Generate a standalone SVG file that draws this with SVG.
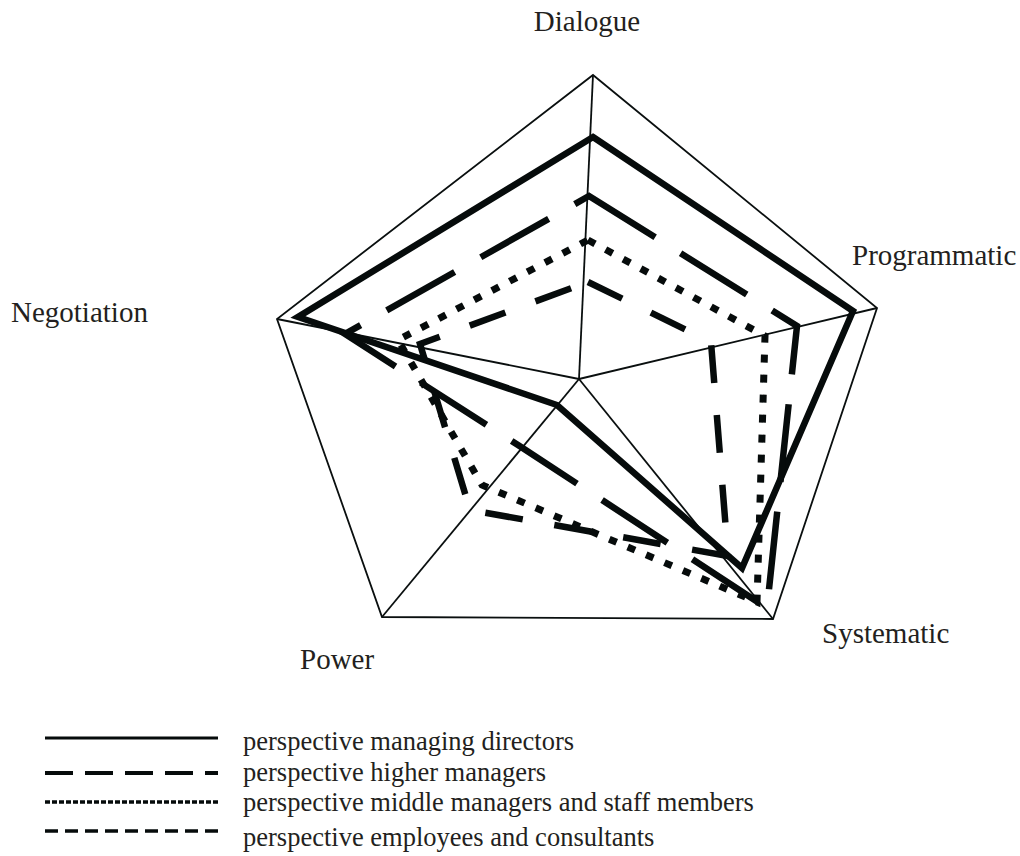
<svg xmlns="http://www.w3.org/2000/svg" width="1020" height="856" viewBox="0 0 1020 856">
<style>
.lbl{font-family:"Liberation Serif","Times New Roman",serif;font-size:29px;fill:#231f20}
.leg{font-family:"Liberation Serif","Times New Roman",serif;font-size:26.5px;fill:#231f20}
.frame{fill:none;stroke:#0a0f0f;stroke-width:1.8;stroke-linejoin:miter}
.spoke{stroke:#0a0f0f;stroke-width:1.8}
.s{fill:none;stroke:#060b0b;stroke-linejoin:miter;stroke-linecap:butt}
.md{stroke-width:6.5}
.hm{stroke-width:6.5;stroke-dasharray:78 30}
.mm{stroke-width:7;stroke-dasharray:8 12}
.ec{stroke-width:6.5;stroke-dasharray:38 32}
</style>
<rect width="1020" height="856" fill="#fff"/>
<g id="axes">
<polygon class="frame" points="593,75 877,308 773,619 382,617 277,319"/>
<line class="spoke" x1="579" y1="379" x2="593" y2="75"/>
<line class="spoke" x1="579" y1="379" x2="877" y2="308"/>
<line class="spoke" x1="579" y1="379" x2="773" y2="619"/>
<line class="spoke" x1="579" y1="379" x2="382" y2="617"/>
<line class="spoke" x1="579" y1="379" x2="277" y2="319"/>
</g>
<g id="labels">
<text class="lbl" x="587" y="31" text-anchor="middle">Dialogue</text>
<text class="lbl" x="852" y="265">Programmatic</text>
<text class="lbl" x="11" y="322">Negotiation</text>
<text class="lbl" x="822" y="643">Systematic</text>
<text class="lbl" x="300" y="669">Power</text>
</g>
<g id="connectors">
<polygon id="managing-directors" class="s md" points="593,137 853,311 742,568 557,405 298,317"/>
<polygon id="higher-managers" class="s hm" points="589,196 797,326 767,608 518,445 345,334"/>
<polygon id="middle-managers" class="s mm" points="588,240 765,336 757,602 482,485 398,340"/>
<polygon id="employees" class="s ec" points="588,282 711,342 728,556 470,510 420,344"/>
</g>
<g id="legend">
<line class="s" stroke-width="3" x1="45" y1="738" x2="218" y2="738"/>
<line class="s" stroke-width="4" stroke-dasharray="28 12" x1="45" y1="773" x2="218" y2="773"/>
<line class="s" stroke-width="3.5" stroke-dasharray="5 2" x1="45" y1="802" x2="218" y2="802"/>
<line class="s" stroke-width="3.5" stroke-dasharray="13 7" x1="45" y1="831" x2="218" y2="831"/>
<text class="leg" x="243" y="750">perspective managing directors</text>
<text class="leg" x="243" y="781">perspective higher managers</text>
<text class="leg" x="243" y="811">perspective middle managers and staff members</text>
<text class="leg" x="243" y="846">perspective employees and consultants</text>
</g>
</svg>
